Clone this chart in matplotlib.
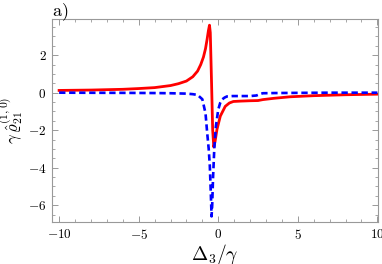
import matplotlib.pyplot as plt
from matplotlib.ticker import MultipleLocator

plt.rcParams['mathtext.fontset'] = 'cm'
plt.rcParams['font.family'] = 'serif'
plt.rcParams['font.serif'] = ['DejaVu Serif']

# values
red_x = [-10, -8, -6, -5, -4, -3, -2.5, -2, -1.6, -1.3, -1.1, -0.93, -0.8, -0.7, -0.62,
         -0.55, -0.5, -0.42, -0.35, -0.28, -0.2, -0.08, 0.13, 0.44, 0.7, 0.95, 1.4, 2.0,
         2.5, 2.8, 3.5, 4.5, 6.0, 8.0, 10]
red_y = [0.12, 0.14, 0.18, 0.22, 0.27, 0.38, 0.48, 0.62, 0.85, 1.15, 1.5, 1.9, 2.35, 2.85, 3.3,
         3.6, 3.2, 0.5, -2.0, -2.9, -2.6, -1.96, -1.25, -0.73, -0.55, -0.47, -0.45, -0.43,
         -0.42, -0.37, -0.3, -0.22, -0.16, -0.11, -0.08]

blue_x = [-10, -6, -4, -3, -2, -1.6, -1.3, -1.0, -0.8, -0.7, -0.6, -0.53, -0.47, -0.42,
          -0.38, -0.33, -0.25, -0.15, 0.0, 0.12, 0.23, 0.4, 0.55, 0.9, 1.4, 2.0, 2.4, 2.6,
          2.8, 3.5, 5, 7, 10]
blue_y = [0.0, -0.01, -0.02, -0.03, -0.05, -0.08, -0.12, -0.35, -1.1, -2.1, -3.0, -3.9, -5.3, -6.6,
          -6.0, -4.6, -3.0, -1.8, -0.9, -0.55, -0.37, -0.26, -0.2, -0.18, -0.18, -0.18, -0.15,
          -0.08, -0.03, -0.02, -0.01, 0.0, 0.0]

xticks = [-10, -5, 0, 5, 10]
yticks = [-6, -4, -2, 0, 2]

fig = plt.figure(figsize=(3.82, 2.64), dpi=100)
ax = fig.add_axes([0.136, 0.159, 0.854, 0.769])

ax.plot(red_x, red_y, color='#ff0000', lw=2.0, solid_joinstyle='round')
ax.plot(blue_x, blue_y, color='#0000ff', lw=1.9, ls=(0, (2.4, 1.4)))

ax.set_xlim(-10.45, 10.05)
ax.set_ylim(-6.9, 3.93)

ax.set_xticks(xticks)
ax.set_xticklabels(['$%d$' % t if t >= 0 else '$-%d$' % -t for t in xticks])
ax.set_yticks(yticks)
ax.set_yticklabels(['$%d$' % t if t >= 0 else '$-%d$' % -t for t in yticks])
ax.xaxis.set_minor_locator(MultipleLocator(1))
ax.yaxis.set_minor_locator(MultipleLocator(0.5))
ax.tick_params(which='both', direction='in', top=True, right=True,
               labeltop=False, labelright=False, color='#999999', labelsize=9.5, pad=4)
ax.tick_params(which='major', length=4, width=0.7)
ax.tick_params(which='minor', length=2.2, width=0.6)
for s in ax.spines.values():
    s.set_color('#999999')
    s.set_linewidth(0.8)

ax.set_xlabel(r'$\Delta_3/\gamma$', fontsize=14, labelpad=0)
ax.set_ylabel(r'$\gamma\,\hat{\varrho}_{21}^{(1,0)}$', fontsize=12, labelpad=2)
fig.text(0.136, 0.94, r'$\mathrm{a)}$', fontsize=13)

fig.savefig('out.png', dpi=100)
